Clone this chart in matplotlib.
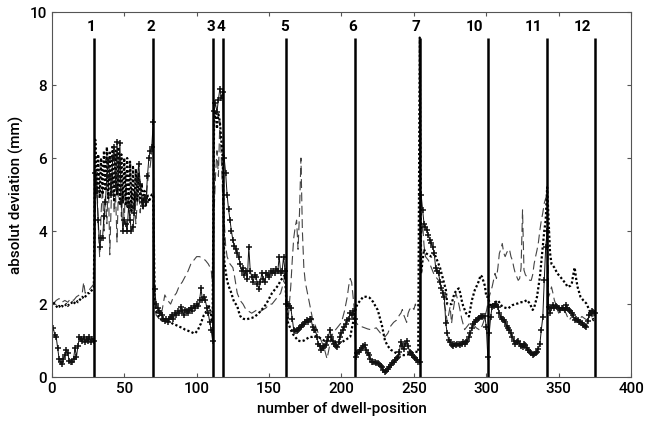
import numpy as np
import matplotlib
matplotlib.use("Agg")
import matplotlib.pyplot as plt

plt.rcParams['font.family'] = ['Roboto', 'DejaVu Sans']

# ---- data -------------------------------------------------------------
# solid line with '+' markers, one value per dwell position 1..375
solid_y = [
    1.35, 1.15, 1.1, 0.8, 0.5, 0.4, 0.35, 0.5, 0.6, 0.75, 0.65, 0.45, 0.4, 0.42, 0.5, 0.8, 0.55, 0.85, 1.1, 1.05,
    1.0, 1.1, 0.95, 1.05, 1.0, 1.1, 0.95, 1.05, 1.0,
    5.6, 5.1, 4.3, 3.55, 3.8, 3.8, 4.4, 4.8, 5.5, 5.95, 5.5, 5.0, 6.0, 6.3, 5.2, 6.45, 5.5, 6.4, 4.8, 4.0, 4.3,
    4.2, 4.0, 4.7, 4.3, 4.0, 4.1, 4.5, 5.0, 5.4, 5.85, 5.3, 4.8, 4.7, 4.9, 4.8, 5.5, 6.0, 6.2, 6.3, 7.0,
    2.4, 2.0, 1.9, 1.8, 1.75, 1.7, 1.6, 1.55, 1.6, 1.5, 1.6, 1.65, 1.7, 1.6, 1.75, 1.7, 1.8, 1.75, 1.93, 1.8,
    1.7, 1.85, 1.8, 1.75, 1.85, 1.88, 1.8, 1.95, 1.9, 2.0, 1.95, 2.1, 2.43, 2.1, 2.2, 2.1, 1.9, 1.75, 1.5, 1.3, 1.0,
    7.3, 7.5, 7.25, 7.6, 7.9, 7.65, 7.8,
    6.0, 5.6, 5.0, 4.6, 4.3, 4.0, 3.75, 3.6, 3.5, 3.4, 3.3, 3.1, 2.9, 3.0, 2.8, 2.9, 2.7, 3.57, 2.9, 2.75,
    2.6, 2.8, 2.75, 2.55, 2.4, 2.6, 2.85, 2.7, 2.6, 2.85, 2.8, 2.75, 2.9, 2.85, 2.9, 2.85, 2.95, 2.9, 3.3, 2.85,
    2.9, 3.3, 2.9, 2.0,
    2.0, 1.95, 1.9, 1.6, 1.3, 1.25, 1.26, 1.3, 1.35, 1.38, 1.42, 1.46, 1.5, 1.56, 1.5, 1.6, 1.6, 1.38, 1.3, 1.29,
    1.1, 0.92, 0.85, 0.75, 0.8, 0.85, 0.88, 1.0, 1.1, 1.29, 1.1, 1.0, 0.92, 0.85, 0.83, 0.95, 1.1, 1.2, 1.3, 1.38,
    1.45, 1.56, 1.6, 1.75, 1.7, 1.8, 1.6,
    0.56, 0.65, 0.7, 0.74, 0.8, 0.85, 0.88, 0.75, 0.65, 0.6, 0.5, 0.42, 0.42, 0.4, 0.38, 0.38, 0.35, 0.3, 0.28, 0.2,
    0.15, 0.18, 0.22, 0.28, 0.32, 0.38, 0.42, 0.48, 0.52, 0.56, 0.7, 0.97, 0.85, 0.78, 0.9, 1.0, 0.85, 0.7, 0.65, 0.6,
    0.56, 0.52, 0.47, 0.42, 0.42,
    5.0, 4.58, 4.2, 4.1, 4.03, 3.9, 3.75, 3.66, 3.55, 3.4, 3.0, 2.9, 2.85, 2.6, 2.45, 2.3, 2.2, 1.47, 1.2, 1.01,
    0.95, 0.88, 0.85, 0.9, 0.88, 0.92, 0.9, 0.88, 0.92, 0.95, 0.9, 0.95, 1.0, 1.1, 1.2, 1.35, 1.45, 1.5, 1.56, 1.6,
    1.62, 1.66, 1.65, 1.68, 1.66, 1.38,
    0.56, 1.2, 1.65, 1.93, 1.95, 2.0, 1.98, 1.93, 1.75, 1.65, 1.6, 1.56, 1.5, 1.4, 1.35, 1.28, 1.2, 1.1, 1.0, 0.92,
    0.95, 1.0, 0.9, 0.85, 0.83, 0.9, 0.88, 0.8, 0.74, 0.7, 0.65, 0.6, 0.62, 0.65, 0.7, 0.78, 0.92, 1.3, 1.65, 2.65,
    3.57, 4.0,
    1.93, 1.75, 1.9, 1.97, 1.9, 1.95, 1.93, 1.9, 1.85, 1.88, 1.9, 1.85, 1.97, 1.9, 1.84, 1.8, 1.75, 1.7, 1.56, 1.6,
    1.56, 1.5, 1.52, 1.47, 1.42, 1.4, 1.38, 1.55, 1.7, 1.75, 1.8, 1.78, 1.75,
]
solid_x = np.arange(1, len(solid_y) + 1)

# dashed series
dashed_x = [1, 3, 5, 7, 9, 11, 13, 15, 17, 19, 21, 22, 23, 25, 27, 29,
            30, 31, 32, 33, 34, 35, 36, 37, 38, 39, 40, 41, 42, 43, 44, 45, 46, 47, 48, 49, 50,
            51, 52, 53, 54, 55, 56, 57, 58, 59, 60, 61, 62, 63, 64, 65, 66, 67, 68, 69, 70,
            71, 72, 74, 76, 78, 80, 82, 84, 86, 88, 90, 92, 94, 96, 98, 100, 102, 104, 106, 108, 110, 111,
            112, 113, 114, 115, 116, 117, 118,
            119, 120, 121, 123, 125, 126, 128, 130, 132, 134, 136, 138, 140, 142, 144, 146, 148, 150,
            152, 154, 156, 158, 160, 161, 162,
            163, 164, 165, 166, 167, 168, 169, 170, 171, 172, 173, 174, 175, 176, 178, 180, 182, 184,
            186, 188, 190, 192, 194, 196, 198, 200, 202, 204, 205, 206, 207, 208, 209,
            210, 212, 214, 216, 218, 220, 222, 224, 226, 228, 230, 232, 234, 236, 238, 240, 241, 242,
            243, 244, 245, 246, 247, 248, 249, 250, 251, 252, 253, 254,
            255, 256, 257, 258, 260, 262, 264, 266, 268, 270, 271, 272, 273, 275, 276, 277, 279, 281,
            283, 285, 287, 289, 291, 293, 295, 296, 298, 300,
            302, 304, 306, 307, 308, 309, 310, 311, 312, 313, 314, 315, 316, 317, 318, 319, 320, 321,
            322, 323, 324, 325, 326, 327, 328, 329, 330, 331, 332, 333, 334, 335, 336, 337, 338, 339,
            340, 341, 342,
            343, 344, 345, 346, 347, 348, 349, 350, 351, 352, 353, 354, 355, 356, 357, 358, 359, 361,
            363, 365, 366, 368, 370, 372, 373, 375]
dashed_y = [2.0, 2.1, 2.15, 2.05, 2.1, 2.05, 2.15, 2.1, 2.2, 2.25, 2.3, 2.6, 2.3, 2.35, 2.45, 2.55,
            4.5, 5.5, 4.2, 3.3, 4.5, 5.2, 4.0, 5.0, 4.2, 5.5, 3.35, 4.8, 5.6, 4.5, 5.0, 3.7, 5.2, 6.0, 4.4, 5.0, 4.2,
            5.6, 4.6, 5.0, 4.4, 5.2, 4.6, 5.0, 4.2, 4.8, 5.2, 4.5, 4.9, 4.6, 5.0, 4.7, 5.3, 5.6, 5.8, 6.2, 6.5,
            2.2, 1.7, 1.6, 1.8, 2.25, 2.1, 2.0, 2.2, 2.3, 2.5, 2.6, 2.75, 2.9, 3.1, 3.2, 3.3, 3.3, 3.25, 3.2, 3.1, 2.95, 2.5,
            4.5, 5.5, 6.2, 5.5, 7.0, 6.0, 4.9,
            4.3, 3.6, 3.3, 3.1, 3.0, 2.8, 2.3, 2.1, 2.0, 1.85, 1.8, 1.75, 1.8, 1.85, 1.8, 1.85, 1.9, 2.0,
            2.0, 2.1, 2.2, 2.3, 2.6, 2.9, 2.0,
            1.5, 2.0, 2.5, 3.2, 3.8, 4.1, 4.3, 3.5, 4.5, 6.0, 4.0, 3.0, 2.6, 2.4, 2.0, 1.6, 1.4, 1.2,
            1.0, 0.8, 0.5, 0.9, 1.2, 1.3, 1.4, 1.5, 1.8, 2.2, 2.5, 2.7, 2.6, 2.2, 1.8,
            1.5, 1.4, 1.38, 1.35, 1.32, 1.3, 1.32, 1.35, 1.25, 1.15, 1.1, 1.2, 1.4, 1.5, 1.56, 1.7, 1.75, 1.85,
            1.7, 1.6, 1.5, 1.75, 1.85, 1.9, 1.93, 1.85, 2.0, 1.9, 2.0, 1.9,
            3.8, 4.2, 3.6, 3.3, 3.2, 3.0, 2.8, 2.7, 2.6, 2.3, 2.0, 1.8, 1.5, 1.93, 1.47, 1.8, 2.3, 2.0,
            1.6, 1.3, 1.4, 1.5, 1.45, 1.35, 1.3, 1.29, 1.5, 1.8,
            2.2, 2.47, 2.84, 2.7, 3.0, 3.39, 3.5, 3.66, 3.4, 3.3, 3.4, 3.48, 3.5, 3.3, 3.2, 3.0, 2.84, 2.75,
            2.65, 2.7, 3.0, 4.58, 2.93, 2.8, 2.75, 2.7, 2.65, 2.65, 2.8, 3.1, 3.3, 3.48, 3.7, 4.03, 4.3, 4.5,
            4.76, 4.9, 5.0,
            2.2, 2.3, 2.47, 2.3, 2.1, 2.0, 1.85, 1.75, 1.85, 1.93, 1.85, 1.8, 1.75, 1.65, 1.56, 1.6, 1.66, 1.62,
            1.6, 1.62, 1.66, 1.6, 1.56, 1.6, 1.66, 1.7]

# dotted series
dotted_x = [1, 2, 3, 4, 5, 6, 7, 8, 9, 10, 11, 12, 13, 14, 15, 16, 17, 18, 19, 20, 21, 22, 23, 24, 25,
            26, 27, 28, 29,
            30, 31, 32, 33, 34, 35, 36, 37, 38, 39, 40, 41, 42, 43, 44, 45, 46, 47, 48, 49, 50,
            51, 52, 53, 54, 55, 56, 57, 58, 59, 60, 61, 62, 63, 64, 65, 66, 67, 68, 69, 70,
            71, 72, 73, 74, 75, 76, 77, 78, 79, 80, 82, 84, 86, 88, 90, 92, 94, 96, 98, 99, 100,
            101, 102, 103, 104, 105, 106, 107, 108, 109, 110, 111,
            112, 113, 114, 115, 116, 117, 118,
            119, 120, 121, 122, 123, 124, 125, 126, 127, 128, 129, 130, 131, 132, 134, 136, 138, 140,
            142, 144, 146, 148, 150, 152, 154, 156, 157, 158, 160, 161, 162,
            163, 164, 165, 166, 168, 170, 172, 174, 176, 178, 180, 182, 184, 186, 188, 190, 192, 194,
            196, 198, 200, 202, 204, 206, 207, 208, 209,
            210, 211, 213, 215, 217, 219, 220, 222, 224, 225, 226, 227, 228, 229, 230, 232, 234, 236,
            238, 240, 243, 246, 248, 251, 253, 254,
            255, 256, 257, 258, 260, 262, 264, 266, 268, 270, 272, 273, 275, 276, 278, 280, 281, 282,
            283, 284, 286, 288, 290, 292, 294, 295, 296, 297, 299, 300,
            301, 303, 305, 308, 311, 313, 315, 318, 320, 322, 324, 326, 328, 330, 332, 333, 335, 337,
            339, 340, 341, 342,
            343, 344, 345, 347, 349, 351, 353, 355, 356, 358, 359, 360, 361, 362, 363, 365, 367, 369,
            371, 372, 374, 375]
dotted_y = [2.05, 2.0, 1.95, 1.9, 1.95, 1.9, 1.95, 1.92, 1.95, 2.0, 1.95, 2.0, 2.0, 2.05, 2.0, 2.05, 2.1,
            2.05, 2.1, 2.15, 2.2, 2.15, 2.2, 2.25, 2.3, 2.3, 2.35, 2.4, 2.45,
            6.5, 5.0, 6.1, 4.9, 6.0, 5.0, 6.2, 5.1, 6.3, 4.9, 6.2, 5.0, 6.3, 4.8, 6.2, 5.0, 6.3, 4.7, 6.1, 4.8, 6.0,
            4.7, 6.0, 4.6, 5.9, 4.5, 5.8, 4.6, 5.7, 4.8, 5.6, 4.9, 5.3, 4.8, 5.1, 4.7, 5.0, 4.8, 4.9, 5.0, 5.0,
            2.2, 1.8, 1.7, 1.65, 1.6, 1.55, 1.58, 1.55, 1.56, 1.52, 1.5, 1.45, 1.42, 1.38, 1.35, 1.3, 1.27,
            1.24, 1.2, 1.2, 1.25,
            1.3, 1.4, 1.47, 1.6, 1.7, 1.75, 1.85, 1.97, 1.9, 1.7, 1.5,
            7.0, 7.3, 6.8, 7.2, 7.0, 6.5, 6.0,
            3.2, 2.9, 2.65, 2.5, 2.4, 2.3, 2.15, 2.05, 2.0, 1.95, 1.8, 1.68, 1.62, 1.6, 1.58, 1.6, 1.62, 1.65,
            1.72, 1.8, 1.9, 2.0, 2.15, 2.3, 2.4, 2.5, 2.57, 2.65, 2.75, 2.8, 2.0,
            1.5, 1.4, 1.3, 1.2, 1.1, 1.0, 0.98, 1.0, 1.05, 1.1, 1.1, 1.12, 1.1, 1.05, 1.0, 1.0, 1.05, 1.0,
            0.95, 0.92, 0.95, 1.0, 1.05, 1.1, 1.3, 1.5, 1.75,
            1.9, 2.0, 2.1, 2.2, 2.2, 2.18, 2.15, 2.05, 1.9, 1.84, 1.7, 1.55, 1.4, 1.2, 1.0, 0.85, 0.75, 0.7,
            0.65, 0.62, 0.6, 0.62, 0.65, 0.7, 0.68, 9.3,
            2.84, 3.2, 3.5, 3.4, 3.35, 3.3, 3.4, 3.2, 3.0, 2.7, 2.4, 2.0, 2.0, 2.0, 2.3, 2.4, 2.43, 2.3,
            2.1, 1.95, 1.75, 1.66, 2.1, 2.38, 2.55, 2.65, 2.79, 2.75, 2.5, 2.2,
            2.2, 1.93, 2.02, 2.1, 1.93, 1.9, 1.88, 1.97, 2.0, 2.02, 2.05, 2.06, 2.11, 2.02, 1.84, 1.9, 2.2, 2.75,
            3.57, 4.0, 4.3, 5.2,
            4.3, 3.4, 3.1, 3.0, 2.84, 2.75, 2.65, 2.55, 2.47, 2.5, 2.56, 2.8, 3.0, 2.7, 2.47, 2.2, 2.1, 2.02,
            1.85, 1.75, 1.56, 1.6]

# vertical reference lines and their labels
vline_x = [29, 70, 111, 118, 162, 209, 254, 301, 342, 375]
vline_top = 9.3
vline_labels = ["1", "2", "3", "4", "5", "6", "7", "10", "11", "12"]
vlabel_x = [27.2, 68.2, 109.6, 117.0, 160.5, 207.5, 251.3, 292.1, 332.8, 366.4]
vlabel_y = 9.6

x_ticks = [0, 50, 100, 150, 200, 250, 300, 350, 400]
y_ticks = [0, 2, 4, 6, 8, 10]

# ---- plot -------------------------------------------------------------
fig = plt.figure(figsize=(6.48, 4.29), dpi=100)
ax = fig.add_axes([0.080, 0.121, 0.894, 0.851])

ax.plot(dashed_x, dashed_y, linestyle=(0, (8, 4)), color='#444444', linewidth=0.8)
ax.plot(dotted_x, dotted_y, linestyle=(0, (1, 1)), color='black', linewidth=1.6)
ax.plot(solid_x, solid_y, '-', color='#111111', linewidth=0.7, marker='+',
        markersize=4, markeredgewidth=1.1)

for xv in vline_x:
    ax.vlines(xv, 0, vline_top, color='black', linewidth=1.8)
for lx, lab in zip(vlabel_x, vline_labels):
    ax.text(lx, vlabel_y, lab, ha='center', va='center', fontsize=11, fontweight='bold')

ax.set_xlim(0, 400)
ax.set_ylim(0, 10)
ax.set_xticks(x_ticks)
ax.set_yticks(y_ticks)
ax.tick_params(direction='in', length=3, width=0.8, top=True, right=True,
               labelsize=11, colors='#555555', labelcolor='black')
for lab in ax.get_xticklabels() + ax.get_yticklabels():
    lab.set_fontweight('medium')
for sp in ax.spines.values():
    sp.set_color('#555555')
    sp.set_linewidth(0.8)

ax.set_xlabel('number of dwell-position', fontsize=11, fontweight='medium', labelpad=4)
ax.set_ylabel('absolut deviation (mm)', fontsize=11, fontweight='medium', labelpad=4)

fig.savefig('out.png', dpi=100)
